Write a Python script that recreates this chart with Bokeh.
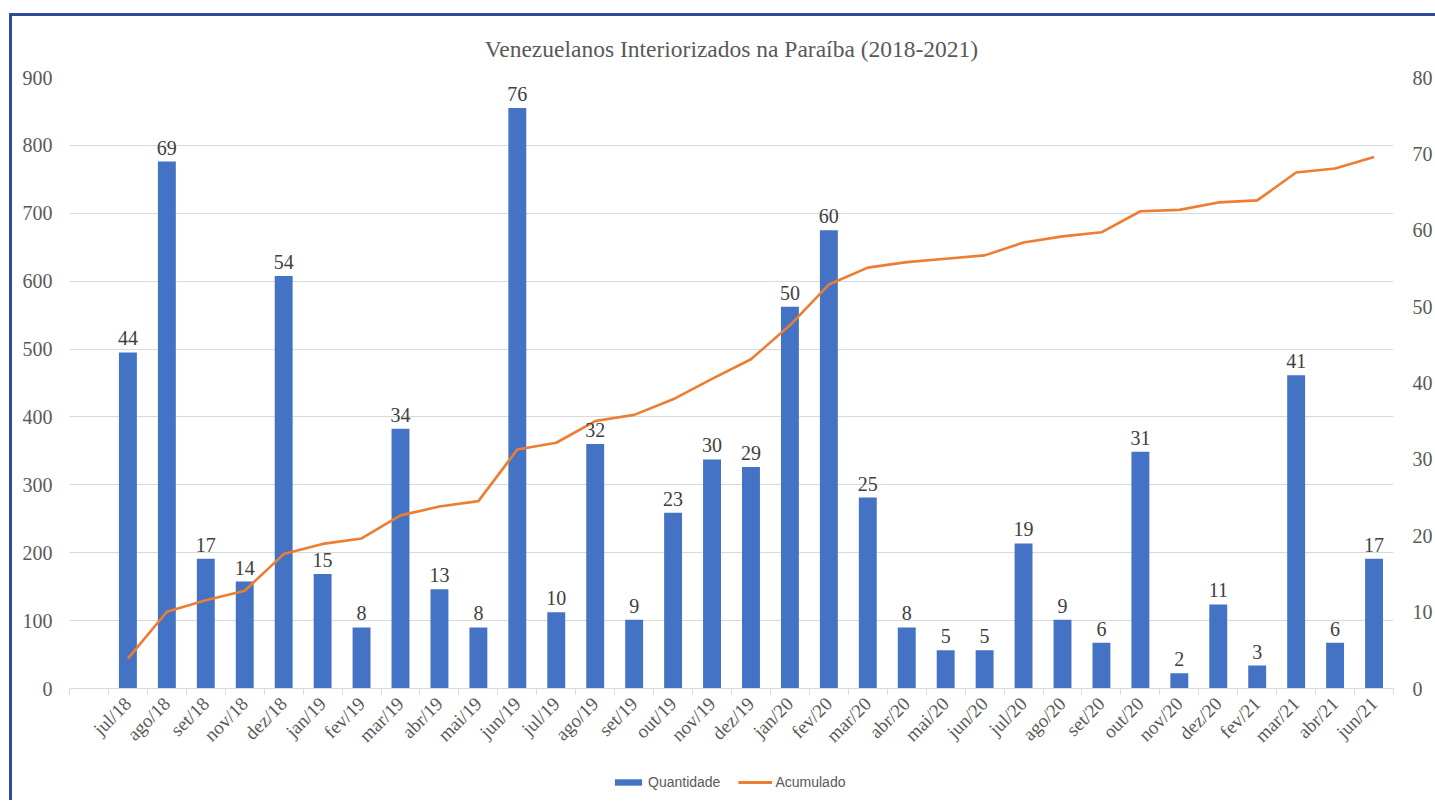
from bokeh.plotting import figure
from bokeh.layouts import column
from bokeh.models import Range1d, LinearAxis, FixedTicker, Legend, LegendItem, ColumnDataSource
from bokeh.core.properties import value
from bokeh.embed import file_html
from bokeh.resources import INLINE

months = ["jul/18", "ago/18", "set/18", "nov/18", "dez/18", "jan/19", "fev/19", "mar/19",
          "abr/19", "mai/19", "jun/19", "jul/19", "ago/19", "set/19", "out/19", "nov/19",
          "dez/19", "jan/20", "fev/20", "mar/20", "abr/20", "mai/20", "jun/20", "jul/20",
          "ago/20", "set/20", "out/20", "nov/20", "dez/20", "fev/21", "mar/21", "abr/21", "jun/21"]
quantidade = [44, 69, 17, 14, 54, 15, 8, 34, 13, 8, 76, 10, 32, 9, 23, 30, 29, 50, 60, 25,
              8, 5, 5, 19, 9, 6, 31, 2, 11, 3, 41, 6, 17]
acumulado = [44, 113, 130, 144, 198, 213, 221, 255, 268, 276, 352, 362, 394, 403, 426, 456,
             485, 535, 595, 620, 628, 633, 638, 657, 666, 672, 703, 705, 716, 719, 760, 766, 783]
left_ticks = [0, 100, 200, 300, 400, 500, 600, 700, 800, 900]
right_ticks = [0, 10, 20, 30, 40, 50, 60, 70, 80]
title_text = "Venezuelanos Interiorizados na Paraíba (2018-2021)"
series_names = ["Quantidade", "Acumulado"]

xs = list(range(1, len(months) + 1))
src = ColumnDataSource(dict(x=xs, q=quantidade, a=acumulado, lbl=[str(v) for v in quantidade]))

GRAY = "#595959"
SERIF = "Liberation Serif"
BLUE = "#4472C4"
ORANGE = "#ED7D31"

p = figure(width=1423, height=750, output_backend="svg", toolbar_location=None,
           x_range=Range1d(-0.5, len(months) + 0.5), y_range=Range1d(0, 900),
           min_border_left=57, min_border_right=39, min_border_top=61, min_border_bottom=78)
p.outline_line_color = None
p.background_fill_color = "white"
p.border_fill_color = "white"

p.title.text = title_text
p.title.align = "center"
p.title.offset = -8
p.title.text_font = SERIF
p.title.text_font_size = "23.5px"
p.title.text_font_style = "normal"
p.title.text_color = GRAY
p.title.standoff = 32

p.extra_y_ranges = {"right": Range1d(0, 80)}

# x axis
p.xaxis.ticker = FixedTicker(ticks=xs, minor_ticks=[i - 0.5 for i in range(0, len(months) + 2)])
p.xaxis.major_label_overrides = {x: m for x, m in zip(xs, months)}
p.xaxis.major_label_orientation = 0.785398
p.xaxis.major_tick_line_color = None
p.xaxis.minor_tick_line_color = "#d9d9d9"
p.xaxis.minor_tick_out = 6
p.xaxis.minor_tick_in = 0
p.xaxis.axis_line_color = "#d9d9d9"
p.xaxis.axis_line_width = 1.2
p.xaxis.major_label_text_font = SERIF
p.xaxis.major_label_text_font_size = "19px"
p.xaxis.major_label_text_color = GRAY
p.xaxis.major_label_standoff = 6
p.xgrid.grid_line_color = None

# left axis
p.yaxis.ticker = FixedTicker(ticks=left_ticks)
p.yaxis.axis_line_color = None
p.yaxis.major_tick_line_color = None
p.yaxis.minor_tick_line_color = None
p.yaxis.major_label_text_font = SERIF
p.yaxis.major_label_text_font_size = "20px"
p.yaxis.major_label_text_color = GRAY
p.yaxis.major_label_standoff = 11
p.ygrid.ticker = FixedTicker(ticks=left_ticks)
p.ygrid.grid_line_color = "#d9d9d9"
p.ygrid.grid_line_width = 1

# right axis
ra = LinearAxis(y_range_name="right", ticker=FixedTicker(ticks=right_ticks))
ra.axis_line_color = None
ra.major_tick_line_color = None
ra.minor_tick_line_color = None
ra.major_label_text_font = SERIF
ra.major_label_text_font_size = "20px"
ra.major_label_text_color = GRAY
ra.major_label_standoff = 13
p.add_layout(ra, "right")

p.vbar(x="x", top="q", width=0.46, source=src, y_range_name="right",
       fill_color=BLUE, line_color=None)
p.line(x="x", y="a", source=src, line_color=ORANGE, line_width=2.6)

p.text(x="x", y="q", text="lbl", source=src, y_range_name="right",
       text_font=value(SERIF), text_font_size="20px", text_color="#404040",
       text_align="center", text_baseline="bottom", y_offset=-7)

# legend strip (separate figure, so that the legend can sit below the rotated labels)
lg = figure(width=1423, height=34, output_backend="svg", toolbar_location=None,
            x_range=Range1d(0, 1), y_range=Range1d(0, 1),
            x_axis_location=None, y_axis_location=None,
            min_border_left=0, min_border_right=0, min_border_top=0, min_border_bottom=0)
lg.grid.visible = False
lg.outline_line_color = None
lg.border_fill_color = "white"
lg.background_fill_color = "white"
# legend proxies that draw nothing themselves (zero-height bar, single-point line)
r_bar = lg.vbar(x=[0.5], top=[0], bottom=[0], width=0.01, fill_color=BLUE, line_color=None)
r_line = lg.line(x=[0.5], y=[0.5], line_color=ORANGE, line_width=3)
legend = Legend(items=[LegendItem(label=series_names[0], renderers=[r_bar]),
                       LegendItem(label=series_names[1], renderers=[r_line])],
                orientation="horizontal", location=(542, 10),
                glyph_width=34, glyph_height=8, label_standoff=3, spacing=18,
                padding=0, margin=0, border_line_color=None, background_fill_alpha=0,
                label_text_font="Liberation Sans", label_text_font_size="14px",
                label_text_color=GRAY)
lg.add_layout(legend)

layout = column(p, lg, spacing=0)
layout.styles = {"border-top": "3px solid #2F4A9C", "border-left": "3px solid #2F4A9C",
                 "margin-top": "13px", "margin-left": "9px"}

open("out.html", "w").write(file_html(layout, INLINE))
